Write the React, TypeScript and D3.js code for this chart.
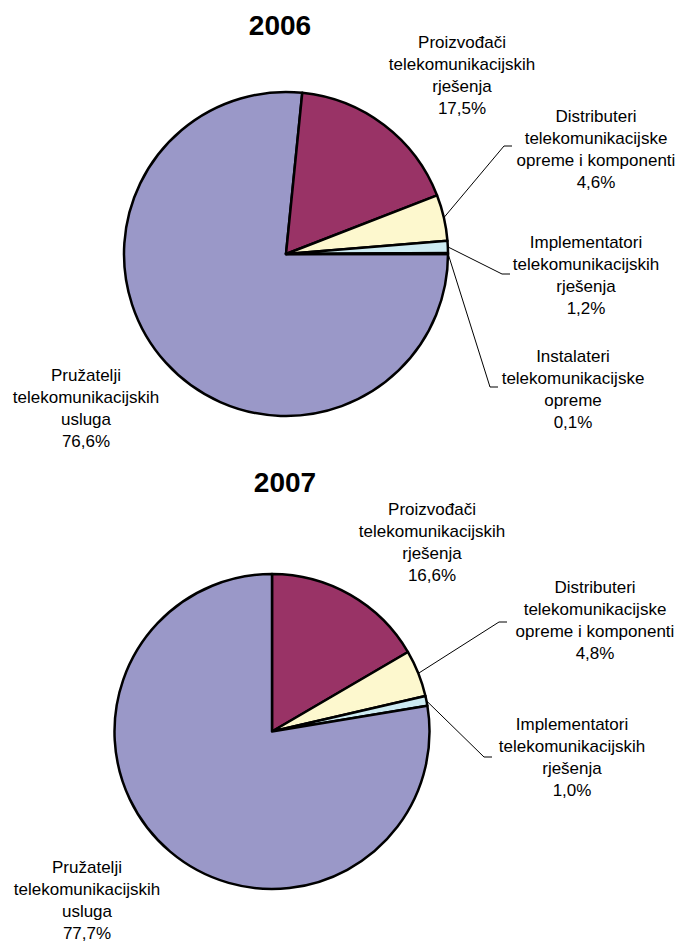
import React, { useRef, useEffect } from 'react'
import * as d3 from 'd3'

// 2006 data (order as drawn, clockwise from 3 o'clock)
const categories2006 = ['Pružatelji', 'Proizvođači', 'Distributeri', 'Implementatori', 'Instalateri']
const values2006 = [76.6, 17.5, 4.6, 1.2, 0.1]

// 2007 data (clockwise from 12 o'clock)
const categories2007 = ['Proizvođači', 'Distributeri', 'Implementatori', 'Pružatelji']
const values2007 = [16.6, 4.8, 1.0, 77.7]

const labelLines: Record<string, string[]> = {
  'Pružatelji': ['Pružatelji', 'telekomunikacijskih', 'usluga'],
  'Proizvođači': ['Proizvođači', 'telekomunikacijskih', 'rješenja'],
  'Distributeri': ['Distributeri', 'telekomunikacijske', 'opreme i komponenti'],
  'Implementatori': ['Implementatori', 'telekomunikacijskih', 'rješenja'],
  'Instalateri': ['Instalateri', 'telekomunikacijske', 'opreme'],
}

const colors: Record<string, string> = {
  'Pružatelji': '#9A98C8',
  'Proizvođači': '#993366',
  'Distributeri': '#FDF8CE',
  'Implementatori': '#CDEBF2',
  'Instalateri': '#CCECFF',
}

// label layout: centre x, first baseline, optional leader end point
type LabelPos = { cx: number, y0: number, lead?: [number, number] }

const charts = [
  {
    title: '2006', titleX: 280, titleY: 35,
    cx: 286, cy: 254, r: 162, start: Math.PI / 2,
    categories: categories2006, values: values2006,
    labels: {
      'Pružatelji': { cx: 86, y0: 381 },
      'Proizvođači': { cx: 462, y0: 48 },
      'Distributeri': { cx: 596, y0: 122, lead: [512, 146] },
      'Implementatori': { cx: 586, y0: 248, lead: [510, 274] },
      'Instalateri': { cx: 573, y0: 362, lead: [498, 387] },
    } as Record<string, LabelPos>,
  },
  {
    title: '2007', titleX: 285, titleY: 492,
    cx: 272, cy: 731.5, r: 157.5, start: 0,
    categories: categories2007, values: values2007,
    labels: {
      'Pružatelji': { cx: 87, y0: 873 },
      'Proizvođači': { cx: 432, y0: 515 },
      'Distributeri': { cx: 595, y0: 593, lead: [507, 622] },
      'Implementatori': { cx: 572, y0: 730, lead: [492, 757] },
    } as Record<string, LabelPos>,
  },
]

const width = 679
const height = 946
const lineH = 22
const pct = (v: number) => d3.format('.1f')(v).replace('.', ',') + '%'

export default function App() {
  const ref = useRef<SVGSVGElement>(null)

  useEffect(() => {
    const svg = d3.select(ref.current)
    svg.selectAll('*').remove()

    charts.forEach(ch => {
      const g = svg.append('g')

      g.append('text')
        .attr('x', ch.titleX)
        .attr('y', ch.titleY)
        .attr('text-anchor', 'middle')
        .attr('font-size', 28)
        .attr('font-weight', 'bold')
        .text(ch.title)

      const rows = ch.categories.map((c, i) => ({ cat: c, value: ch.values[i] }))
      const pie = d3.pie<any>()
        .sort(null)
        .value(d => d.value)
        .startAngle(ch.start)
        .endAngle(ch.start + 2 * Math.PI)
      const arcs = pie(rows)
      const arc = d3.arc<any>().innerRadius(0).outerRadius(ch.r)

      const pg = g.append('g').attr('transform', `translate(${ch.cx},${ch.cy})`)
      pg.selectAll('path')
        .data(arcs)
        .join('path')
        .attr('d', arc)
        .attr('fill', d => colors[d.data.cat])
        .attr('stroke', '#000')
        .attr('stroke-width', 2.5)
        .attr('stroke-linejoin', 'round')

      arcs.forEach(a => {
        const lp = ch.labels[a.data.cat]
        if (!lp) return
        const lines = [...labelLines[a.data.cat], pct(a.data.value)]
        const t = g.append('text')
          .attr('text-anchor', 'middle')
          .attr('font-size', 17)
          .attr('fill', '#000')
        lines.forEach((ln, k) => {
          t.append('tspan').attr('x', lp.cx).attr('y', lp.y0 + k * lineH).text(ln)
        })

        if (lp.lead) {
          const mid = (a.startAngle + a.endAngle) / 2
          const sx = ch.cx + Math.sin(mid) * ch.r
          const sy = ch.cy - Math.cos(mid) * ch.r
          const [ex, ey] = lp.lead
          g.append('path')
            .attr('d', d3.line()([[sx, sy], [ex - 8, ey], [ex, ey]]))
            .attr('fill', 'none')
            .attr('stroke', '#000')
            .attr('stroke-width', 1)
        }
      })
    })
  }, [])

  return (
    <svg
      ref={ref}
      width={width}
      height={height}
      style={{ position: 'absolute', left: 0, top: 0, background: '#fff', fontFamily: 'Arial, "Liberation Sans", sans-serif' }}
    />
  )
}
